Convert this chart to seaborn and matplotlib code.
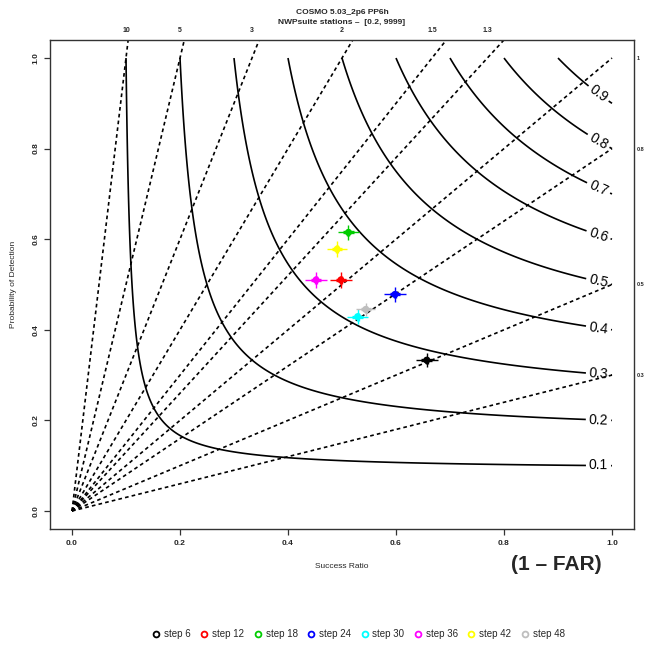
import numpy as np
import pandas as pd
import seaborn as sns
import matplotlib.pyplot as plt
from matplotlib import lines

# Data
STEPS = ["step 6", "step 12", "step 18", "step 24", "step 30", "step 36", "step 42", "step 48"]
STEP_COLORS = ["#000000", "#FF0000", "#00CD00", "#0000FF", "#00FFFF", "#FF00FF", "#FFFF00", "#BEBEBE"]
SUCCESS_RATIO = [0.657, 0.498, 0.512, 0.598, 0.529, 0.452, 0.491, 0.544]
POD = [0.333, 0.510, 0.615, 0.478, 0.429, 0.510, 0.578, 0.445]
SR_ERR = [0.020, 0.020, 0.020, 0.020, 0.020, 0.020, 0.018, 0.018]
POD_ERR = [0.016, 0.017, 0.017, 0.017, 0.017, 0.017, 0.017, 0.015]

CSI_LEVELS = [0.1, 0.2, 0.3, 0.4, 0.5, 0.6, 0.7, 0.8, 0.9]
BIAS_LINES = [10, 5, 3, 2, 1.5, 1.3, 1, 0.8, 0.5, 0.3]
TOP_BIAS = [10, 5, 3, 2, 1.5, 1.3]
TOP_LABELS = ["10", "5", "3", "2", "1.5", "1.3"]
RIGHT_BIAS = [1, 0.8, 0.5, 0.3]
RIGHT_LABELS = ["1", "0.8", "0.5", "0.3"]

TITLE = "COSMO 5.03_2p6 PP6h"
SUBTITLE = "NWPsuite stations \u2013  [0.2, 9999]"

W, H = 646, 652

sns.set_style("ticks")
plt.rcParams["font.family"] = ["Liberation Sans", "DejaVu Sans"]

fig = plt.figure(figsize=(W / 100, H / 100), dpi=100)
# axes box in pixels: x 50.4..633.6, y 39.9..529.1
ax = fig.add_axes([50.4 / W, (H - 529.1) / H, 583.2 / W, 489.2 / H])
ax.set_xlim(-0.04, 1.04)
ax.set_ylim(-0.04, 1.04)

# -------------------------------------------------------------------------
# Bias lines (dashed, from origin)
for b in BIAS_LINES:
    ax.plot([0, 1], [0, b], linestyle=(0, (2.2, 1.9)), color="black", lw=1.2, zorder=1)

# -------------------------------------------------------------------------
# CSI contours
sr_grid = np.linspace(0.001, 1, 500)
pod_grid = np.linspace(0.001, 1, 500)
SRg, PODg = np.meshgrid(sr_grid, pod_grid)
CSI = 1 / (1 / SRg + 1 / PODg - 1)
cs = ax.contour(SRg, PODg, CSI, levels=CSI_LEVELS, colors="black", linewidths=1.2, zorder=2)
label_pos = []
for c in CSI_LEVELS:
    s = 0.975
    label_pos.append((s, 1 / (1 / c - 1 / s + 1)))
ax.clabel(cs, manual=label_pos, inline=True, fontsize=10, fmt="%.1f", inline_spacing=3)

# -------------------------------------------------------------------------
# Points with error crosses
for i in range(len(STEPS)):
    ax.errorbar(SUCCESS_RATIO[i], POD[i], xerr=SR_ERR[i], yerr=POD_ERR[i],
                fmt="none", ecolor=STEP_COLORS[i], elinewidth=1.0, zorder=4)
    ax.errorbar(SUCCESS_RATIO[i], POD[i], xerr=SR_ERR[i] * 0.5, yerr=POD_ERR[i] * 0.5,
                fmt="none", ecolor=STEP_COLORS[i], elinewidth=2.4, zorder=4)

df = pd.DataFrame({"sr": SUCCESS_RATIO, "pod": POD, "step": STEPS})
sns.scatterplot(data=df, x="sr", y="pod", hue="step", palette=STEP_COLORS,
                s=26, edgecolor="none", legend=False, ax=ax, zorder=5)

# -------------------------------------------------------------------------
# Axes styling
for sp in ax.spines.values():
    sp.set_visible(True)
    sp.set_linewidth(1.0)
    sp.set_color("#333333")

ticks = [0.0, 0.2, 0.4, 0.6, 0.8, 1.0]
ax.set_xticks(ticks)
ax.set_yticks(ticks)
ax.set_xticklabels(["%.1f" % t for t in ticks], fontsize=6, fontweight="bold")
ax.set_yticklabels(["%.1f" % t for t in ticks], fontsize=6, fontweight="bold",
                   rotation=90, va="center")
ax.tick_params(axis="both", length=4, width=0.9, color="#333333", pad=4)
ax.set_xlabel("")
ax.set_ylabel("")

top = ax.secondary_xaxis("top")
top.set_xticks([1 / b for b in TOP_BIAS])
top.set_xticklabels(TOP_LABELS, fontsize=5, fontweight="bold")
top.tick_params(length=0, pad=4)
top.spines["top"].set_visible(False)

right = ax.secondary_yaxis("right")
right.set_yticks(RIGHT_BIAS)
right.set_yticklabels(RIGHT_LABELS, fontsize=4, fontweight="bold")
right.tick_params(length=0, pad=2)
right.spines["right"].set_visible(False)

# -------------------------------------------------------------------------
# Texts
cx = (50.4 + 583.2 / 2) / W
fig.text(cx, 1 - 13 / H, TITLE, ha="center", va="center", fontsize=6, fontweight="bold")
fig.text(cx, 1 - 23 / H, SUBTITLE, ha="center", va="center", fontsize=6, fontweight="bold")
fig.text(cx, 1 - 567 / H, "Success Ratio", ha="center", va="center", fontsize=6)
fig.text(14 / W, (H - 284.5) / H, "Probability of Detection", ha="center", va="center",
         fontsize=6, rotation=90)
fig.text(556 / W, 1 - 565 / H, "(1 \u2013 FAR)", ha="center", va="center",
         fontsize=15, fontweight="bold")

# -------------------------------------------------------------------------
# Legend
handles = [lines.Line2D([0], [0], marker="o", linestyle="none", markerfacecolor="none",
                        markeredgecolor=c, markeredgewidth=1.3, markersize=4.2)
           for c in STEP_COLORS]
fig.legend(handles=handles, labels=STEPS, loc="center", bbox_to_anchor=(358 / W, 1 - 634 / H),
           ncol=8, frameon=False, fontsize=7, handletextpad=0.3, columnspacing=0.9,
           handlelength=1.0)

fig.savefig("out.png", dpi=100)
